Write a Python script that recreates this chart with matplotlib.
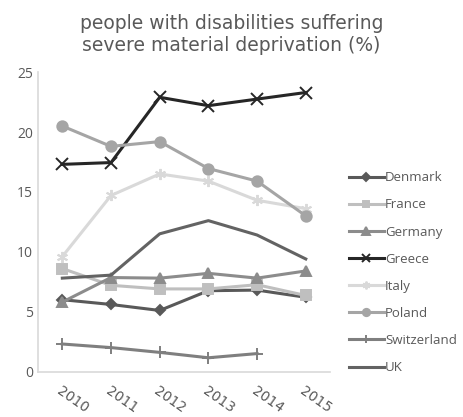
import numpy as np
import matplotlib
matplotlib.use('Agg')
import matplotlib.pyplot as plt

plt.rcParams['font.family'] = ['Open Sans', 'DejaVu Sans']

years = ['2010', '2011', '2012', '2013', '2014', '2015']
denmark = [6.0, 5.6, 5.1, 6.75, 6.8, 6.2]
france = [8.6, 7.2, 6.9, 6.9, 7.25, 6.35]
germany = [5.8, 7.85, 7.8, 8.2, 7.8, 8.4]
greece = [17.3, 17.45, 22.9, 22.2, 22.75, 23.3]
italy = [9.6, 14.7, 16.5, 15.9, 14.3, 13.6]
poland = [20.5, 18.8, 19.2, 16.95, 15.9, 13.0]
switzerland = [2.3, 2.0, 1.6, 1.15, 1.5, np.nan]
uk = [7.8, 8.05, 11.5, 12.6, 11.4, 9.4]

# name, values, colour, marker, marker size
series = [
    ('Denmark', denmark, '#595959', 'D', 5.5),
    ('France', france, '#BFBFBF', 's', 7),
    ('Germany', germany, '#8C8C8C', '^', 7.5),
    ('Greece', greece, '#262626', 'x', 8),
    ('Italy', italy, '#D9D9D9', (6, 2, 0), 8),
    ('Poland', poland, '#A5A5A5', 'o', 7.5),
    ('Switzerland', switzerland, '#7F7F7F', '+', 8),
    ('UK', uk, '#636363', '', 0),
]

fig = plt.figure(figsize=(4.63, 4.17), dpi=100)
ax = fig.add_axes([0.082, 0.109, 0.631, 0.718])
x = np.arange(len(years))
for name, vals, col, mk, ms in series:
    ax.plot(x, vals, color=col, lw=2.2, marker=mk, markersize=ms,
            markeredgewidth=1.4, label=name)

ax.set_xlim(-0.5, 5.5)
ax.set_ylim(0, 25)
ax.set_yticks([0, 5, 10, 15, 20, 25])
ax.set_xticks(x)
ax.set_xticklabels(years, rotation=-35, ha='left', va='top',
                   rotation_mode='anchor', fontsize=11, family='DejaVu Sans')
ax.tick_params(length=0, colors='#595959', labelsize=10)
ax.tick_params(axis='x', pad=9)
for s in ['top', 'right']:
    ax.spines[s].set_visible(False)
for s in ['left', 'bottom']:
    ax.spines[s].set_color('#D9D9D9')
    ax.spines[s].set_linewidth(1.2)

fig.suptitle('people with disabilities suffering\nsevere material deprivation (%)',
             x=0.5, y=0.966, fontsize=13.5, color='#595959', linespacing=1.2,
             family='DejaVu Sans')

leg = ax.legend(loc='center left', bbox_to_anchor=(1.025, 0.33), frameon=False,
                fontsize=9.5, labelspacing=1.07, handlelength=2.6,
                handletextpad=0.1, labelcolor='#595959', markerscale=0.7)

fig.savefig('out.png', dpi=100)
